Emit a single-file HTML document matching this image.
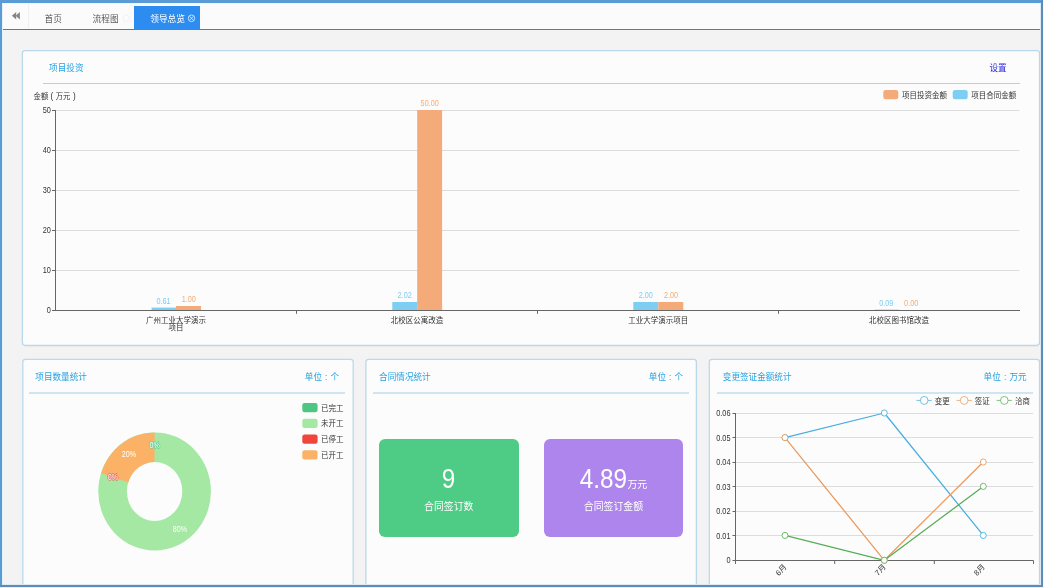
<!DOCTYPE html>
<html lang="zh-CN">
<head>
<meta charset="utf-8">
<title>领导总览</title>
<style>
*{margin:0;padding:0;box-sizing:border-box;}
html,body{width:1044px;height:588px;overflow:hidden;background:#f3f3f3;}
body{font-family:"Liberation Sans","Noto Sans CJK SC",sans-serif;color:#333;position:relative;}
#root{position:absolute;left:0;top:0;width:1044px;height:588px;overflow:hidden;background:#f3f3f3;}
.abs{position:absolute;}
/* window frame */
#ft{left:0;top:0;width:1042px;height:3px;background:#5b9bd5;}
#fl{left:0;top:0;width:2px;height:586px;background:#5b9bd5;}
#fr{left:1041px;top:0;width:2px;height:587px;background:#5f8bb7;}
#fb{left:0;top:585px;width:1043px;height:2px;background:#5f8bb7;}
#fr2{left:1043px;top:0;width:1px;height:588px;background:#f4f8fb;}
#fb2{left:0;top:587px;width:1044px;height:1px;background:#e4eef6;}
/* tab bar */
#tabbar{left:2px;top:3px;width:1039px;height:26px;background:#fbfbfb;}
#tabline{left:3px;top:29px;width:1038px;height:1px;background:#4780b6;}
#tabsep{left:28px;top:3px;width:1px;height:26px;background:#f0f0f0;}
.tab{position:absolute;top:7.6px;height:23px;line-height:23px;font-size:8.7px;color:#5a5a5a;white-space:nowrap;transform:scaleY(1.05);}
#tabact{left:134.3px;top:6px;width:65.7px;height:24px;background:#2d8cf0;}
/* panel titles */
.ptitle{position:absolute;font-size:8.6px;color:#25a2e2;white-space:nowrap;line-height:12px;transform:scaleY(1.05);}
.ptitle i{display:inline-block;width:8.6px;text-align:center;font-style:normal;}
.pline{position:absolute;height:1px;background:#a6d6ee;}
.pline2{position:absolute;height:2px;background:#cfe5f2;}
.card{position:absolute;border-radius:6px;color:#fff;text-align:center;}
.card div{position:absolute;left:0;width:100%;white-space:nowrap;}
.big{font-size:27px;line-height:32px;top:23.7px;}
.big b{display:inline-block;font-weight:normal;transform:scale(0.9,1.05);margin:0 -2.5px;}
.big span{display:inline-block;font-size:9.9px;transform:scaleY(1.05);}
.sm{font-size:9.9px;line-height:14px;top:60.7px;transform:scaleY(1.05);}
svg{position:absolute;left:0;top:0;overflow:visible;}
svg text{font-family:"Liberation Sans","Noto Sans CJK SC",sans-serif;transform-box:fill-box;transform-origin:50% 50%;transform:scaleY(1.05);}
svg text.ne{transform-origin:100% 50%;transform:scale(0.92,1.1);}
svg text.nm{transform-origin:50% 50%;transform:scale(0.97,1.1);}
svg text.rot{transform:none;}
</style>
</head>
<body>
<div id="root">
  <!-- panels -->
  <svg width="1044" height="588" viewBox="0 0 1044 588">
    <rect x="24" y="346" width="1014" height="1.2" fill="#000" opacity="0.035"/>
    <g fill="#fcfcfc" stroke="#b9d8eb" stroke-width="1.25">
      <rect x="22.4" y="50.5" width="1017.1" height="294.8" rx="2.7"/>
      <rect x="22.8" y="359.4" width="330.4" height="240" rx="2.7"/>
      <rect x="365.9" y="359.4" width="330.5" height="240" rx="2.7"/>
      <rect x="709.3" y="359.4" width="330.2" height="240" rx="2.7"/>
    </g>
  </svg>

  <!-- tab bar -->
  <div class="abs" id="tabbar"></div>
  <div class="abs" id="tabsep"></div>
  <div class="abs" id="tabline"></div>
  <div class="abs" id="tabact"></div>
  <div class="tab" style="left:44.5px;">首页</div>
  <div class="tab" style="left:92.5px;">流程图</div>
  <div class="tab" style="left:150.2px;color:#fff;">领导总览</div>

  <!-- panel 1 -->
  <div class="ptitle" style="left:49.1px;top:62px;">项目投资</div>
  <div class="ptitle" style="left:989.5px;top:62px;color:#2a2ae0;">设置</div>
  <div class="pline" style="left:43px;top:83px;width:976.5px;"></div>

  <!-- panel 2 -->
  <div class="ptitle" style="left:35.3px;top:371.2px;">项目数量统计</div>
  <div class="ptitle" style="left:304.8px;top:371.2px;">单位<i>:</i>个</div>
  <div class="pline2" style="left:29.3px;top:392px;width:316px;"></div>

  <!-- panel 3 -->
  <div class="ptitle" style="left:379.1px;top:371.2px;">合同情况统计</div>
  <div class="ptitle" style="left:648.8px;top:371.2px;">单位<i>:</i>个</div>
  <div class="pline2" style="left:372.6px;top:392px;width:316.8px;"></div>
  <div class="card" style="left:379px;top:439px;width:139.6px;height:98.3px;background:#4ecb85;">
    <div class="big"><b style="margin:0">9</b></div>
    <div class="sm">合同签订数</div>
  </div>
  <div class="card" style="left:543.7px;top:439px;width:139.6px;height:98.3px;background:#ae85ec;">
    <div class="big"><b>4.89</b><span>万元</span></div>
    <div class="sm">合同签订金额</div>
  </div>

  <!-- panel 4 -->
  <div class="ptitle" style="left:722.8px;top:371.2px;">变更签证金额统计</div>
  <div class="ptitle" style="left:983.6px;top:371.2px;">单位<i>:</i>万元</div>
  <div class="pline2" style="left:716.7px;top:392px;width:316px;"></div>

  <!-- charts -->
  <svg width="1044" height="588" viewBox="0 0 1044 588">
    <!-- tab icons -->
    <g fill="#858585">
      <path d="M11.9 15.8 L16.2 12 L16.2 19.6 Z"/>
      <path d="M15.6 15.8 L19.9 12 L19.9 19.6 Z"/>
    </g>
    <g stroke="#e9edf1" stroke-width="0.7" fill="none">
      <ellipse cx="126.3" cy="18.3" rx="3.2" ry="3.35"/>
    </g>
    <g stroke="#fff" stroke-width="0.7" fill="none">
      <ellipse cx="191.5" cy="18.3" rx="3.2" ry="3.35"/>
      <path d="M189.7 16.4 L193.3 20.2 M193.3 16.4 L189.7 20.2"/>
    </g>

    <!-- bar chart -->
    <g id="barchart">
      <g font-size="7.4" fill="#333">
        <text x="33.6" y="98.9">金额</text>
        <text x="51.8" y="98.9" text-anchor="middle" font-size="8.2">(</text>
        <text x="55.7" y="98.9">万元</text>
        <text x="74.3" y="98.9" text-anchor="middle" font-size="8.2">)</text>
      </g>
      <g stroke="#dcdcdc" stroke-width="1">
        <path d="M55 110.5 H1019.5 M55 150.5 H1019.5 M55 190.5 H1019.5 M55 230.5 H1019.5 M55 270.5 H1019.5"/>
      </g>
      <g font-size="8" fill="#333" text-anchor="end">
        <text class="ne" x="50.8" y="113">50</text>
        <text class="ne" x="50.8" y="153">40</text>
        <text class="ne" x="50.8" y="193">30</text>
        <text class="ne" x="50.8" y="233">20</text>
        <text class="ne" x="50.8" y="273">10</text>
        <text class="ne" x="50.8" y="313">0</text>
      </g>
      <!-- bars -->
      <g fill="#7ecef4">
        <rect x="151.5" y="307.6" width="24.5" height="2.4"/>
        <rect x="392.3" y="302" width="25" height="8"/>
        <rect x="633.3" y="302" width="25" height="8"/>
        <rect x="874.5" y="309.6" width="24.5" height="0.4"/>
      </g>
      <g fill="#f4ab79">
        <rect x="176" y="306" width="25" height="4"/>
        <rect x="417.2" y="110" width="24.9" height="200"/>
        <rect x="658.3" y="302" width="25" height="8"/>
      </g>
      <!-- axes -->
      <g stroke="#666" stroke-width="1" fill="none">
        <path d="M55.5 110 V310.5"/>
        <path d="M52 310.5 H1020"/>
        <path d="M52 110.5 H55 M52 150.5 H55 M52 190.5 H55 M52 230.5 H55 M52 270.5 H55"/>
        <path d="M296.5 310.5 V313.8 M537.5 310.5 V313.8 M778.5 310.5 V313.8"/>
      </g>
      <g font-size="7.5" text-anchor="middle">
        <g fill="#7ecef4">
          <text class="nm" x="163.5" y="303.7">0.61</text>
          <text class="nm" x="404.7" y="297.8">2.02</text>
          <text class="nm" x="645.8" y="297.8">2.00</text>
          <text class="nm" x="886.3" y="305.8">0.09</text>
        </g>
        <g fill="#f4ab79">
          <text class="nm" x="188.7" y="302.2">1.00</text>
          <text class="nm" x="429.7" y="106">50.00</text>
          <text class="nm" x="671" y="297.8">2.00</text>
          <text class="nm" x="911.2" y="305.8">0.00</text>
        </g>
      </g>
      <g font-size="7.5" fill="#333" text-anchor="middle">
        <text x="176" y="322.8">广州工业大学演示</text>
        <text x="176" y="330.3">项目</text>
        <text x="417" y="322.8">北校区公寓改造</text>
        <text x="658.3" y="322.8">工业大学演示项目</text>
        <text x="899" y="322.8">北校区图书馆改造</text>
      </g>
      <!-- legend -->
      <rect x="883.3" y="90" width="15" height="9.3" rx="2.3" fill="#f4ab79"/>
      <text x="902" y="97.6" font-size="7.5" fill="#333">项目投资金额</text>
      <rect x="952.7" y="90" width="15" height="9.3" rx="2.3" fill="#7ecef4"/>
      <text x="971.3" y="97.6" font-size="7.5" fill="#333">项目合同金额</text>
    </g>

    <!-- donut -->
    <g id="donut">
      <path fill-rule="evenodd" fill="#a5e8a3" d="M98.3 491.4 A56.3 59 0 1 0 210.9 491.4 A56.3 59 0 1 0 98.3 491.4 Z M126.9 491.4 A27.7 29.5 0 1 1 182.3 491.4 A27.7 29.5 0 1 1 126.9 491.4 Z"/>
      <path d="M154.6 432.4 A56.3 59 0 0 0 101.06 473.17 L128.26 482.28 A27.7 29.5 0 0 1 154.6 461.9 Z" fill="#fbb266"/>
      <g font-size="7.4" text-anchor="middle" fill="#fff">
        <text class="nm" x="154.6" y="447.9" stroke="#5fcf8f" stroke-width="1.3" paint-order="stroke" stroke-linejoin="round">0%</text>
        <text class="nm" x="128.9" y="456.9">20%</text>
        <text class="nm" x="113" y="479.7" stroke="#f2645a" stroke-width="1.3" paint-order="stroke" stroke-linejoin="round">0%</text>
        <text class="nm" x="180" y="531.7">80%</text>
      </g>
      <g>
        <rect x="302.3" y="403" width="15.3" height="9.3" rx="2.3" fill="#4ec681"/>
        <rect x="302.3" y="418.8" width="15.3" height="9.3" rx="2.3" fill="#a5e8a3"/>
        <rect x="302.3" y="434.5" width="15.3" height="9.3" rx="2.3" fill="#f0453a"/>
        <rect x="302.3" y="450.3" width="15.3" height="9.3" rx="2.3" fill="#fbb266"/>
      </g>
      <g font-size="7.5" fill="#333">
        <text x="321" y="410.5">已完工</text>
        <text x="321" y="426.3">未开工</text>
        <text x="321" y="442">已停工</text>
        <text x="321" y="457.8">已开工</text>
      </g>
    </g>

    <!-- line chart -->
    <g id="linechart">
      <g stroke="#dcdcdc" stroke-width="1">
        <path d="M735.5 413.5 H1033 M735.5 437.5 H1033 M735.5 462.5 H1033 M735.5 486.5 H1033 M735.5 511.5 H1033 M735.5 535.5 H1033"/>
      </g>
      <g stroke="#666" stroke-width="1" fill="none">
        <path d="M735.5 413 V560.5"/>
        <path d="M732.5 560.5 H1033.5"/>
        <path d="M732.5 413.5 H735.5 M732.5 437.5 H735.5 M732.5 462.5 H735.5 M732.5 486.5 H735.5 M732.5 511.5 H735.5 M732.5 535.5 H735.5"/>
        <path d="M735.5 560.5 V564 M834.7 560.5 V564 M934.3 560.5 V564 M1033.5 560.5 V564"/>
      </g>
      <g font-size="8" fill="#333" text-anchor="end">
        <text class="ne" x="730.5" y="415.8">0.06</text>
        <text class="ne" x="730.5" y="440.3">0.05</text>
        <text class="ne" x="730.5" y="464.8">0.04</text>
        <text class="ne" x="730.5" y="489.3">0.03</text>
        <text class="ne" x="730.5" y="513.8">0.02</text>
        <text class="ne" x="730.5" y="538.3">0.01</text>
        <text class="ne" x="730.5" y="563">0</text>
      </g>
      <g fill="none" stroke-width="1.25" stroke-linejoin="round">
        <path d="M785 437.6 L884.3 413 L983.3 535.4" stroke="#47afe0"/>
        <path d="M785 437.6 L884.3 560.3 L983.3 462" stroke="#ea9a5c"/>
        <path d="M785 535.4 L884.3 560.3 L983.3 486.4" stroke="#58ad58"/>
      </g>
      <g fill="#fff" stroke-width="0.85">
        <g stroke="#47afe0"><ellipse cx="785" cy="437.6" rx="2.95" ry="3.1"/><ellipse cx="884.3" cy="413" rx="2.95" ry="3.1"/><ellipse cx="983.3" cy="535.4" rx="2.95" ry="3.1"/></g>
        <g stroke="#ea9a5c"><ellipse cx="785" cy="437.6" rx="2.95" ry="3.1"/><ellipse cx="884.3" cy="560.3" rx="2.95" ry="3.1"/><ellipse cx="983.3" cy="462" rx="2.95" ry="3.1"/></g>
        <g stroke="#58ad58"><ellipse cx="785" cy="535.4" rx="2.95" ry="3.1"/><ellipse cx="884.3" cy="560.3" rx="2.95" ry="3.1"/><ellipse cx="983.3" cy="486.4" rx="2.95" ry="3.1"/></g>
      </g>
      <g font-size="7.5" fill="#333" text-anchor="end">
        <g transform="translate(787,567.5) scale(1,1.05) rotate(-45)"><text class="rot">6月</text></g>
        <g transform="translate(886.3,567.5) scale(1,1.05) rotate(-45)"><text class="rot">7月</text></g>
        <g transform="translate(985.3,567.5) scale(1,1.05) rotate(-45)"><text class="rot">8月</text></g>
      </g>
      <!-- legend -->
      <g stroke-width="0.75" fill="#fcfcfc">
        <g stroke="#47afe0"><path d="M916.4 400.4 H931.8"/><ellipse cx="924.2" cy="400.4" rx="3.8" ry="4"/></g>
        <g stroke="#ea9a5c"><path d="M956.5 400.4 H971.9"/><ellipse cx="964.2" cy="400.4" rx="3.8" ry="4"/></g>
        <g stroke="#58ad58"><path d="M996.6 400.4 H1011.8"/><ellipse cx="1004.3" cy="400.4" rx="3.8" ry="4"/></g>
      </g>
      <g font-size="7.5" fill="#333">
        <text x="934.7" y="403.5">变更</text>
        <text x="974.7" y="403.5">签证</text>
        <text x="1015" y="403.5">洽商</text>
      </g>
    </g>
  </svg>

  <!-- window frame on top -->
  <div class="abs" style="left:2px;top:3px;width:1px;height:582px;background:#e6f1fa;"></div>
  <div class="abs" style="left:1040px;top:3px;width:1px;height:582px;background:#dcebf6;"></div>
  <div class="abs" style="left:2px;top:584px;width:1039px;height:1px;background:#dcebf6;"></div>
  <div class="abs" style="left:2px;top:3px;width:1039px;height:1px;background:#eef6fc;"></div>
  <div class="abs" id="fr2"></div>
  <div class="abs" id="fb2"></div>
  <div class="abs" id="ft"></div>
  <div class="abs" id="fl"></div>
  <div class="abs" id="fr"></div>
  <div class="abs" id="fb"></div>
</div>
</body>
</html>
